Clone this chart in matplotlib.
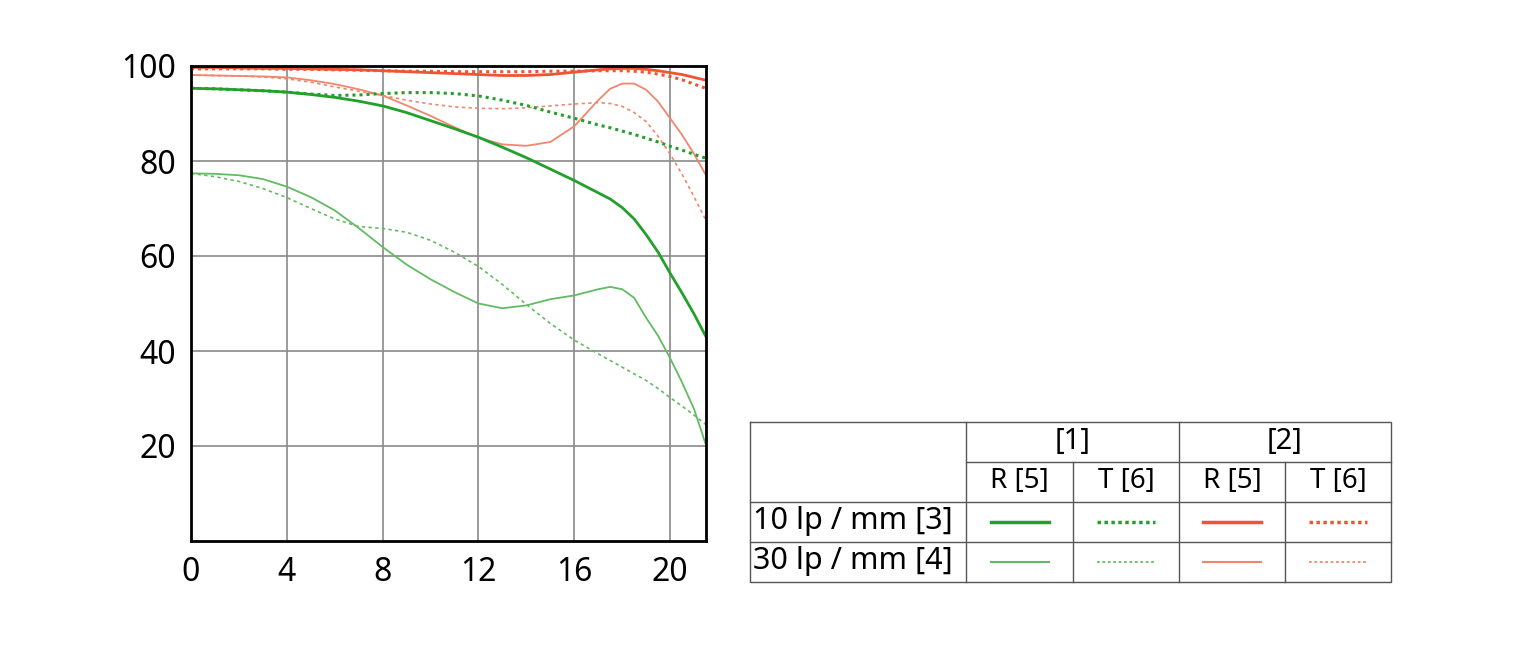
import matplotlib.pyplot as plt
import numpy as np

# image height (mm) and MTF values (%)
x = [0, 1, 2, 3, 4, 5, 6, 7, 8, 9, 10, 11, 12, 13, 14, 15, 16, 17, 17.5, 18, 18.5, 19, 19.5,
     20, 20.5, 21, 21.5]

g10_r = [95.3, 95.2, 95.0, 94.8, 94.5, 94.0, 93.4, 92.6, 91.6, 90.2, 88.5, 86.8, 85.0, 82.9,
         80.7, 78.3, 75.9, 73.3, 72.0, 70.2, 67.8, 64.5, 60.8, 56.4, 52.2, 47.8, 43.0]
g10_t = [95.3, 95.2, 95.0, 94.8, 94.5, 94.1, 93.8, 93.9, 94.2, 94.4, 94.4, 94.2, 93.7, 92.8,
         91.7, 90.3, 89.0, 87.6, 87.0, 86.3, 85.6, 84.8, 84.0, 83.1, 82.3, 81.4, 80.6]
g30_r = [77.4, 77.3, 77.0, 76.2, 74.6, 72.4, 69.6, 65.9, 61.9, 58.2, 55.1, 52.4, 50.0, 49.0,
         49.6, 50.9, 51.7, 53.0, 53.5, 53.0, 51.2, 47.0, 43.2, 38.5, 33.4, 27.8, 20.2]
g30_t = [77.4, 76.7, 75.7, 74.2, 72.3, 70.0, 67.8, 66.2, 65.8, 65.0, 63.3, 60.8, 57.8, 54.0,
         49.8, 45.8, 42.3, 39.4, 38.0, 36.6, 35.2, 33.8, 32.1, 30.2, 28.4, 26.5, 24.5]
r10_r = [99.7, 99.7, 99.6, 99.5, 99.5, 99.4, 99.3, 99.2, 99.0, 98.8, 98.6, 98.4, 98.2, 98.0,
         98.0, 98.2, 98.7, 99.2, 99.4, 99.5, 99.5, 99.3, 99.0, 98.6, 98.2, 97.6, 97.0]
r10_t = [99.4, 99.4, 99.4, 99.4, 99.3, 99.3, 99.2, 99.1, 99.0, 98.9, 98.9, 98.8, 98.8, 98.8,
         98.8, 98.9, 98.9, 99.0, 99.0, 99.0, 98.9, 98.7, 98.3, 97.8, 97.1, 96.2, 95.3]
r30_r = [98.1, 98.0, 97.9, 97.8, 97.6, 97.0, 96.2, 95.1, 93.8, 91.7, 89.5, 87.1, 84.9, 83.5,
         83.2, 84.0, 87.3, 92.8, 95.2, 96.3, 96.3, 95.0, 92.5, 89.0, 85.5, 81.5, 77.0]
r30_t = [98.1, 98.0, 97.9, 97.7, 97.3, 96.6, 95.6, 94.7, 93.8, 92.8, 92.0, 91.4, 91.1, 91.0,
         91.2, 91.6, 92.0, 92.3, 92.1, 91.5, 90.2, 88.3, 85.2, 81.5, 77.2, 72.5, 67.5]

xticks = [0, 4, 8, 12, 16, 20]
yticks = [20, 40, 60, 80, 100]

green = '#22a02c'
green_l = '#62bb62'
red = '#ee5533'
red_l = '#f2866c'

plt.rcParams['font.family'] = ['Noto Sans', 'DejaVu Sans']

fig = plt.figure(figsize=(15.36, 6.59), dpi=100)
ax = fig.add_axes([191 / 1536, 1 - 541 / 659, 515 / 1536, 475 / 659])

ax.plot(x, g30_t, color=green_l, lw=1.2, ls=(0, (2, 2)))
ax.plot(x, g30_r, color=green_l, lw=1.3)
ax.plot(x, r30_t, color=red_l, lw=1.2, ls=(0, (2, 2)))
ax.plot(x, r30_r, color=red_l, lw=1.3)
ax.plot(x, g10_t, color=green, lw=2.2, ls=(0, (1, 1.3)))
ax.plot(x, g10_r, color=green, lw=2.0)
ax.plot(x, r10_t, color=red, lw=2.2, ls=(0, (1, 1.3)))
ax.plot(x, r10_r, color=red, lw=2.0)

ax.set_xlim(0, 21.5)
ax.set_ylim(0, 100)
ax.set_xticks(xticks)
ax.set_yticks(yticks)
ax.grid(True, color='#8a8a8a', lw=1.2)
ax.set_axisbelow(True)
ax.tick_params(length=0, labelsize=23, pad=11)
for s in ax.spines.values():
    s.set_linewidth(2)
    s.set_color('black')

# legend table drawn in pixel coordinates
tb = fig.add_axes([0, 0, 1, 1])
tb.set_xlim(0, 1536)
tb.set_ylim(659, 0)
tb.axis('off')

cols = [750, 966, 1073, 1179, 1285, 1391]
lc = '#555555'
tb.plot([750, 1391, 1391, 750, 750], [422, 422, 582, 582, 422], color=lc, lw=1)
tb.plot([750, 1391], [502, 502], color=lc, lw=1)
tb.plot([750, 1391], [542, 542], color=lc, lw=1)
tb.plot([966, 1391], [462, 462], color=lc, lw=1)
tb.plot([966, 966], [422, 582], color=lc, lw=1)
tb.plot([1179, 1179], [422, 582], color=lc, lw=1)
tb.plot([1073, 1073], [462, 582], color=lc, lw=1)
tb.plot([1285, 1285], [462, 582], color=lc, lw=1)

fs = 20
tb.text((966 + 1179) / 2, 441, '[1]', ha='center', va='center', fontsize=fs + 1)
tb.text((1179 + 1391) / 2, 441, '[2]', ha='center', va='center', fontsize=fs + 1)
sub = ['R [5]', 'T [6]', 'R [5]', 'T [6]']
for i, lab in enumerate(sub):
    tb.text((cols[i + 1] + cols[i + 2]) / 2, 481, lab, ha='center', va='center', fontsize=fs)
tb.text(753, 521, '10 lp / mm [3]', ha='left', va='center', fontsize=fs + 2)
tb.text(753, 561, '30 lp / mm [4]', ha='left', va='center', fontsize=fs + 2)

samples = [
    (522, green, 2.5, '-'), (522, green, 2.5, (0, (1, 1))),
    (522, red, 2.5, '-'), (522, red, 2.5, (0, (1, 1))),
    (562, green_l, 1.5, '-'), (562, green_l, 1.3, (0, (1.5, 1.5))),
    (562, red_l, 1.5, '-'), (562, red_l, 1.3, (0, (1.5, 1.5))),
]
for i, (yy, c, lw, ls) in enumerate(samples):
    k = i % 4
    cx = (cols[k + 1] + cols[k + 2]) / 2
    tb.plot([cx - 29, cx + 29], [yy, yy], color=c, lw=lw, ls=ls)

fig.savefig('out.png', dpi=100)
